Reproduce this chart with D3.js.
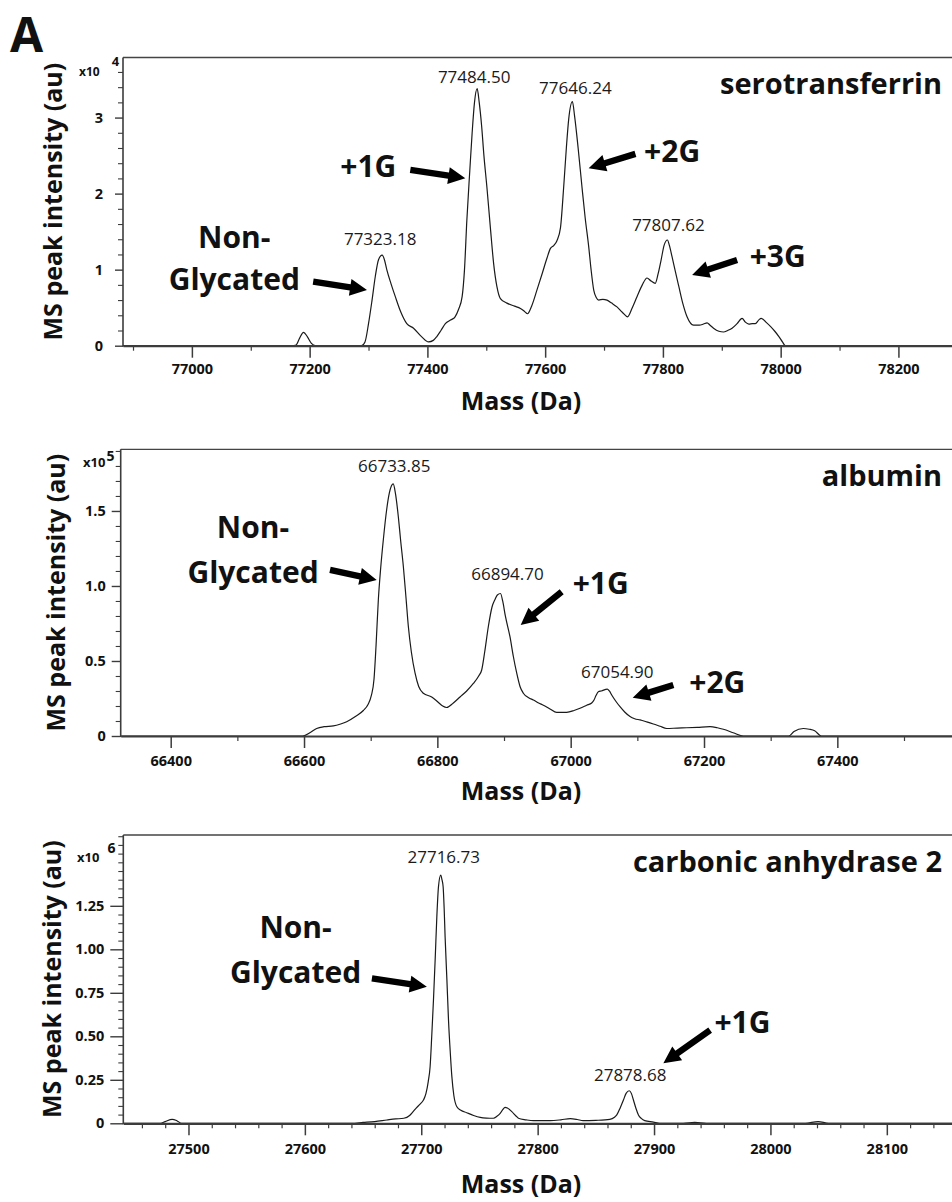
<!DOCTYPE html>
<html>
<head>
<meta charset="utf-8">
<script src="https://cdn.jsdelivr.net/npm/d3@7"></script>
<style>
  body { margin: 0; background: #fff; }
  svg { display: block; }
  text { font-family: "Open Sans", "Noto Sans", sans-serif; }
</style>
</head>
<body>
<svg id="fig" width="952" height="1202"></svg>
<script>
// ---------- serotransferrin deconvoluted spectrum (intensity x10^4) ----------
const transferrinMass = [
  76883, 77170, 77177, 77183, 77189.6, 77196, 77203, 77209.5, 77288, 77294,
  77300, 77306, 77311.5, 77317, 77323.18, 77327, 77331, 77338, 77345.5, 77355,
  77365, 77376.5, 77390, 77402, 77410, 77416, 77423, 77430.5, 77440, 77447,
  77453, 77459, 77463, 77467, 77472, 77476, 77480, 77484.5, 77488, 77492,
  77496, 77501, 77507, 77512.5, 77518, 77524, 77535, 77548, 77558, 77565,
  77570, 77577, 77586, 77595, 77603, 77609, 77615, 77620, 77626, 77631.5,
  77636, 77640, 77646.24, 77650, 77656, 77662.5, 77668, 77674, 77678, 77682.5,
  77687, 77691, 77698, 77705, 77713, 77722, 77731, 77740, 77748, 77756,
  77765, 77773, 77780, 77787, 77792, 77797, 77802, 77807.62, 77811, 77815.5,
  77821, 77827, 77834, 77841, 77852, 77862, 77869, 77875, 77880, 77886,
  77895, 77903, 77910, 77917.5, 77926, 77934.5, 77940, 77946, 77952, 77957,
  77963, 77967, 77975, 77983, 77990, 77997, 78003, 78008, 78291
];
const transferrinIntensity = [
  0, 0, 0.01, 0.1, 0.176, 0.12, 0.03, 0, 0, 0.05,
  0.29, 0.6, 0.91, 1.13, 1.19, 1.13, 1.0, 0.82, 0.645, 0.44,
  0.29, 0.23, 0.12, 0.05, 0.07, 0.12, 0.2, 0.29, 0.34, 0.38,
  0.48, 0.645, 1.0, 1.65, 2.3, 2.8, 3.2, 3.38, 3.2, 2.9,
  2.5, 2.09, 1.55, 1.08, 0.78, 0.62, 0.56, 0.52, 0.49, 0.45,
  0.42, 0.52, 0.73, 0.95, 1.15, 1.28, 1.32, 1.38, 1.55, 2.09,
  2.6, 2.98, 3.21, 3.02, 2.6, 2.09, 1.68, 1.30, 1.0, 0.73,
  0.63, 0.60, 0.61, 0.60, 0.56, 0.51, 0.44, 0.38, 0.50, 0.645,
  0.80, 0.89, 0.85, 0.82, 0.95, 1.13, 1.32, 1.39, 1.32, 1.17,
  0.98, 0.78, 0.55, 0.38, 0.27, 0.27, 0.285, 0.30, 0.27, 0.23,
  0.19, 0.18, 0.20, 0.23, 0.29, 0.36, 0.31, 0.285, 0.29, 0.29,
  0.34, 0.36, 0.31, 0.25, 0.19, 0.12, 0.05, 0, 0
];
const transferrinPeakMass = [77323.18, 77484.50, 77646.24, 77807.62];
const transferrinPeakHeight = [1.19, 3.38, 3.21, 1.39];
const transferrinXTicks = [77000, 77200, 77400, 77600, 77800, 78000, 78200];
const transferrinYTicks = [0, 1, 2, 3];
const transferrinYLabels = ["0", "1", "2", "3"];

// ---------- albumin deconvoluted spectrum (intensity x10^5) ----------
const albuminMass = [
  66325, 66598, 66610, 66619, 66630, 66644, 66655, 66664, 66677, 66689,
  66696, 66701, 66705, 66708, 66711.5, 66715, 66719, 66724, 66728, 66733.85,
  66737, 66741.5, 66745, 66749, 66753, 66756.5, 66761, 66766.5, 66772, 66779,
  66791.5, 66800, 66808, 66814, 66824, 66834, 66844, 66854, 66862, 66866.5,
  66871, 66876.5, 66882, 66886.5, 66890, 66894.70, 66898, 66902, 66909, 66914,
  66919, 66924, 66929, 66937, 66944, 66952, 66959, 66969, 66979, 66994,
  67005, 67014, 67024, 67031.5, 67035, 67038, 67041.5, 67046, 67054.90, 67058,
  67062, 67068, 67074, 67081, 67089, 67096, 67104, 67114, 67124, 67134,
  67144, 67160, 67174, 67190, 67209, 67220, 67229, 67245, 67259, 67327,
  67335, 67349, 67358, 67366, 67376, 67572
];
const albuminIntensity = [
  0, 0, 0.025, 0.05, 0.062, 0.067, 0.08, 0.095, 0.13, 0.17,
  0.21, 0.27, 0.38, 0.60, 0.91, 1.12, 1.31, 1.51, 1.62, 1.68,
  1.62, 1.46, 1.30, 1.13, 0.92, 0.73, 0.56, 0.42, 0.33, 0.285,
  0.26, 0.23, 0.20, 0.19, 0.22, 0.26, 0.30, 0.35, 0.40, 0.44,
  0.56, 0.73, 0.86, 0.91, 0.94, 0.95, 0.90, 0.80, 0.66, 0.53,
  0.42, 0.33, 0.285, 0.255, 0.24, 0.22, 0.205, 0.18, 0.157, 0.158,
  0.17, 0.185, 0.205, 0.22, 0.24, 0.27, 0.295, 0.30, 0.313, 0.30,
  0.27, 0.23, 0.195, 0.16, 0.13, 0.115, 0.107, 0.094, 0.08, 0.065,
  0.05, 0.053, 0.055, 0.058, 0.062, 0.055, 0.045, 0.02, 0, 0,
  0.03, 0.05, 0.045, 0.035, 0, 0
];
const albuminPeakMass = [66733.85, 66894.70, 67054.90];
const albuminPeakHeight = [1.68, 0.95, 0.313];
const albuminXTicks = [66400, 66600, 66800, 67000, 67200, 67400];
const albuminYTicks = [0, 0.5, 1.0, 1.5];
const albuminYLabels = ["0", "0.5", "1.0", "1.5"];

// ---------- carbonic anhydrase 2 deconvoluted spectrum (intensity x10^6) ----------
const anhydraseMass = [
  27444, 27476, 27480, 27486, 27490, 27494, 27640, 27650, 27660, 27670.5,
  27678, 27685, 27690, 27693, 27696, 27699, 27702, 27704, 27706, 27707.6,
  27709, 27710.5, 27712, 27713.4, 27714.8, 27716.73, 27717.8, 27718.8, 27719.7, 27720.5,
  27722, 27723.4, 27725, 27726.3, 27728, 27730.6, 27734, 27739, 27745, 27750.6,
  27756, 27762, 27765, 27767.8, 27770, 27772, 27774, 27777.8, 27781, 27783.5,
  27790, 27796.4, 27810.7, 27820, 27828, 27834, 27839, 27850, 27862, 27866,
  27868, 27871, 27873.7, 27876, 27878.68, 27880.5, 27882.3, 27884.5, 27886.6, 27889,
  27892, 27899.5, 27905, 27925, 27935, 27945, 28030, 28041, 28050, 28156
];
const anhydraseIntensity = [
  0, 0, 0.01, 0.023, 0.015, 0, 0, 0.005, 0.01, 0.019,
  0.025, 0.029, 0.045, 0.067, 0.09, 0.11, 0.135, 0.17, 0.24, 0.325,
  0.5, 0.71, 0.95, 1.19, 1.36, 1.427, 1.40, 1.36, 1.23, 1.07,
  0.83, 0.594, 0.4, 0.268, 0.16, 0.095, 0.075, 0.061, 0.045, 0.034,
  0.03, 0.029, 0.04, 0.057, 0.078, 0.092, 0.088, 0.067, 0.045, 0.029,
  0.02, 0.015, 0.015, 0.02, 0.027, 0.022, 0.015, 0.017, 0.023, 0.035,
  0.048, 0.09, 0.134, 0.172, 0.187, 0.172, 0.134, 0.085, 0.048, 0.028,
  0.015, 0.007, 0, 0, 0.005, 0, 0, 0.01, 0, 0
];
const anhydrasePeakMass = [27716.73, 27878.68];
const anhydrasePeakHeight = [1.427, 0.187];
const anhydraseXTicks = [27500, 27600, 27700, 27800, 27900, 28000, 28100];
const anhydraseYTicks = [0, 0.25, 0.5, 0.75, 1.0, 1.25];
const anhydraseYLabels = ["0", "0.25", "0.50", "0.75", "1.00", "1.25"];

// ---------- figure ----------
const W = 952;
const FONT = '"Open Sans", "Noto Sans", sans-serif';
const INK = "#111";
const AXIS = "#3c3c3c";
const svg = d3.select("#fig");

// panel letter
svg.append("text")
  .attr("x", 10).attr("y", 52)
  .attr("font-family", '"Liberation Sans", Arial, sans-serif')
  .attr("font-size", 48).attr("font-weight", 700).attr("fill", INK)
  .text("A");

// thick block arrow from tail to tip (pixel coords)
function arrowPath(x1, y1, x2, y2) {
  const dx = x2 - x1, dy = y2 - y1;
  const len = Math.hypot(dx, dy);
  const ux = dx / len, uy = dy / len, nx = -uy, ny = ux;
  const hl = 17, hw = 8.5, sw = 3.2;
  const bx = x2 - ux * hl, by = y2 - uy * hl;
  const p = [
    [x1 + nx * sw, y1 + ny * sw],
    [bx + nx * sw, by + ny * sw],
    [bx + nx * hw, by + ny * hw],
    [x2, y2],
    [bx - nx * hw, by - ny * hw],
    [bx - nx * sw, by - ny * sw],
    [x1 - nx * sw, y1 - ny * sw]
  ];
  return "M" + p.map(d => d.join(",")).join("L") + "Z";
}

function drawPanel(p) {
  const g = svg.append("g");
  const x = d3.scaleLinear().domain(p.xDomain).range([p.left, W]);
  const y = d3.scaleLinear().domain(p.yDomain).range([p.bottom, p.top]);

  // top frame line
  g.append("line")
    .attr("x1", p.left).attr("x2", W)
    .attr("y1", p.top).attr("y2", p.top)
    .attr("stroke", "#444").attr("stroke-width", 1.3);

  // spectrum trace
  const line = d3.line()
    .x(d => x(d[0])).y(d => y(d[1]))
    .curve(d3.curveMonotoneX);
  g.append("path")
    .datum(d3.zip(p.mass, p.intensity))
    .attr("d", line)
    .attr("fill", "none")
    .attr("stroke", "#1a1a1a")
    .attr("stroke-width", 1.2)
    .attr("stroke-linejoin", "round");

  // x axis: minor then major ticks
  const xMinor = d3.range(p.xDomain[0] - (p.xDomain[0] % p.xMinorStep) + p.xMinorStep, p.xDomain[1], p.xMinorStep)
    .filter(v => !p.xTicks.includes(v));
  g.append("g")
    .attr("transform", `translate(0,${p.bottom})`)
    .call(d3.axisBottom(x).tickValues(xMinor).tickSize(5).tickSizeOuter(0).tickFormat(""))
    .call(a => a.select(".domain").remove())
    .call(a => a.selectAll("line").attr("stroke", AXIS).attr("stroke-width", 1.2));
  const xa = g.append("g")
    .attr("transform", `translate(0,${p.bottom})`)
    .call(d3.axisBottom(x).tickValues(p.xTicks).tickSize(12).tickSizeOuter(0)
      .tickPadding(p.xPad).tickFormat(d3.format("d")));
  xa.select(".domain").attr("stroke", AXIS).attr("stroke-width", 2.2);
  xa.selectAll("line").attr("stroke", AXIS).attr("stroke-width", 1.5);
  xa.selectAll("text")
    .attr("font-family", FONT).attr("font-size", 14.5)
    .attr("font-weight", 700).attr("fill", INK);

  // y axis: minor then major ticks
  const yMinor = d3.range(p.yMinorStep, p.yDomain[1], p.yMinorStep)
    .filter(v => !p.yTicks.some(t => Math.abs(t - v) < 1e-6));
  g.append("g")
    .attr("transform", `translate(${p.left},0)`)
    .call(d3.axisLeft(y).tickValues(yMinor).tickSize(5).tickSizeOuter(0).tickFormat(""))
    .call(a => a.select(".domain").remove())
    .call(a => a.selectAll("line").attr("stroke", AXIS).attr("stroke-width", 1.1));
  const ya = g.append("g")
    .attr("transform", `translate(${p.left},0)`)
    .call(d3.axisLeft(y).tickValues(p.yTicks).tickSize(p.yTickLen).tickSizeOuter(0)
      .tickPadding(p.yPad).tickFormat((d, i) => p.yLabels[i]));
  ya.select(".domain").attr("stroke", AXIS).attr("stroke-width", 1.6)
    .attr("d", `M0,${p.top}V${p.bottom + 1}`);
  ya.selectAll("line").attr("stroke", AXIS).attr("stroke-width", 1.4);
  ya.selectAll("text")
    .attr("font-family", FONT).attr("font-size", 14.5)
    .attr("font-weight", 700).attr("fill", INK);

  // exponent marker
  const ex = g.append("text")
    .attr("x", p.expX).attr("y", p.expY)
    .attr("font-size", p.expSize).attr("font-weight", 700).attr("fill", INK);
  ex.append("tspan").text("x10");
  ex.append("tspan").attr("dx", p.expGap).attr("dy", -p.expRaise)
    .attr("font-size", p.expSize + 1).text(p.exponent);

  // axis titles
  g.append("text")
    .attr("transform", `translate(${p.yTitleX},${(p.top + p.bottom) / 2}) rotate(-90)`)
    .attr("text-anchor", "middle")
    .attr("font-size", 25).attr("font-weight", 700).attr("fill", INK)
    .text("MS peak intensity (au)");
  g.append("text")
    .attr("x", 521).attr("y", p.xTitleY)
    .attr("text-anchor", "middle")
    .attr("font-size", 25).attr("font-weight", 700).attr("fill", INK)
    .text("Mass (Da)");

  // protein name
  g.append("text")
    .attr("x", W - 10).attr("y", p.top + 36.5)
    .attr("text-anchor", "end")
    .attr("font-size", 29).attr("font-weight", 700).attr("fill", INK)
    .text(p.name);

  // peak mass labels
  p.peakMass.forEach((m, i) => {
    g.append("text")
      .attr("x", x(m) + p.peakDx[i])
      .attr("y", y(p.peakHeight[i]) - p.peakGap[i])
      .attr("text-anchor", "middle")
      .attr("font-size", 17).attr("fill", "#1a1a1a")
      .text(d3.format(".2f")(m));
  });

  // glycation annotations
  p.notes.forEach(n => {
    g.append("text")
      .attr("x", x(n.m)).attr("y", y(n.v))
      .attr("text-anchor", "middle")
      .attr("font-size", 30).attr("font-weight", 700).attr("fill", INK)
      .text(n.text);
  });
  p.arrows.forEach(a => {
    g.append("path")
      .attr("d", arrowPath(x(a.from[0]), y(a.from[1]), x(a.to[0]), y(a.to[1])))
      .attr("fill", "#000");
  });
}

drawPanel({
  name: "serotransferrin",
  mass: transferrinMass, intensity: transferrinIntensity,
  peakMass: transferrinPeakMass, peakHeight: transferrinPeakHeight,
  peakDx: [-2, -3, 3, 1], peakGap: [10, 6, 8, 9],
  xDomain: [76883, 78291], yDomain: [0, 3.79],
  left: 123, top: 57.5, bottom: 345.7,
  xTicks: transferrinXTicks, xMinorStep: 100, xPad: 6,
  yTicks: transferrinYTicks, yLabels: transferrinYLabels, yMinorStep: 0.2,
  yTickLen: 8, yPad: 12,
  exponent: "4", expX: 79, expY: 76, expSize: 12, expGap: 12, expRaise: 10,
  yTitleX: 62, xTitleY: 410,
  notes: [
    { text: "Non-", m: 77072, v: 1.28 },
    { text: "Glycated", m: 77072, v: 0.733 },
    { text: "+1G", m: 77299.6, v: 2.224 },
    { text: "+2G", m: 77815.6, v: 2.421 },
    { text: "+3G", m: 77995, v: 1.04 }
  ],
  arrows: [
    { from: [77206, 0.842], to: [77297.4, 0.733] },
    { from: [77371, 2.312], to: [77464.4, 2.203] },
    { from: [77753.3, 2.522], to: [77673.9, 2.334] },
    { from: [77926, 1.128], to: [77849.6, 0.93] }
  ]
});

drawPanel({
  name: "albumin",
  mass: albuminMass, intensity: albuminIntensity,
  peakMass: albuminPeakMass, peakHeight: albuminPeakHeight,
  peakDx: [1, 7, 10], peakGap: [12, 13, 11],
  xDomain: [66325, 67572], yDomain: [0, 1.911],
  left: 120.7, top: 449.3, bottom: 736,
  xTicks: albuminXTicks, xMinorStep: 100, xPad: 8,
  yTicks: albuminYTicks, yLabels: albuminYLabels, yMinorStep: 0.1,
  yTickLen: 9, yPad: 6,
  exponent: "5", expX: 83, expY: 467, expSize: 13, expGap: 1, expRaise: 6,
  yTitleX: 65, xTitleY: 800,
  notes: [
    { text: "Non-", m: 66523.5, v: 1.318 },
    { text: "Glycated", m: 66523.5, v: 1.022 },
    { text: "+1G", m: 67045, v: 0.947 },
    { text: "+2G", m: 67220, v: 0.289 }
  ],
  arrows: [
    { from: [66639, 1.107], to: [66709, 1.04] },
    { from: [66986.5, 0.962], to: [66925, 0.74] },
    { from: [67154, 0.34], to: [67093, 0.255] }
  ]
});

drawPanel({
  name: "carbonic anhydrase 2",
  mass: anhydraseMass, intensity: anhydraseIntensity,
  peakMass: anhydrasePeakMass, peakHeight: anhydrasePeakHeight,
  peakDx: [3, 1], peakGap: [12, 10],
  xDomain: [27444, 28156], yDomain: [0, 1.657],
  left: 123.3, top: 835, bottom: 1123.3,
  xTicks: anhydraseXTicks, xMinorStep: 20, xPad: 8,
  yTicks: anhydraseYTicks, yLabels: anhydraseYLabels, yMinorStep: 0.05,
  yTickLen: 13, yPad: 6,
  exponent: "6", expX: 77, expY: 862, expSize: 13, expGap: 8, expRaise: 9,
  yTitleX: 61, xTitleY: 1193,
  notes: [
    { text: "Non-", m: 27592, v: 1.063 },
    { text: "Glycated", m: 27592, v: 0.808 },
    { text: "+1G", m: 27976, v: 0.517 }
  ],
  arrows: [
    { from: [27657.6, 0.833], to: [27704.8, 0.785] },
    { from: [27948.2, 0.536], to: [27908, 0.345] }
  ]
});
</script>
</body>
</html>
